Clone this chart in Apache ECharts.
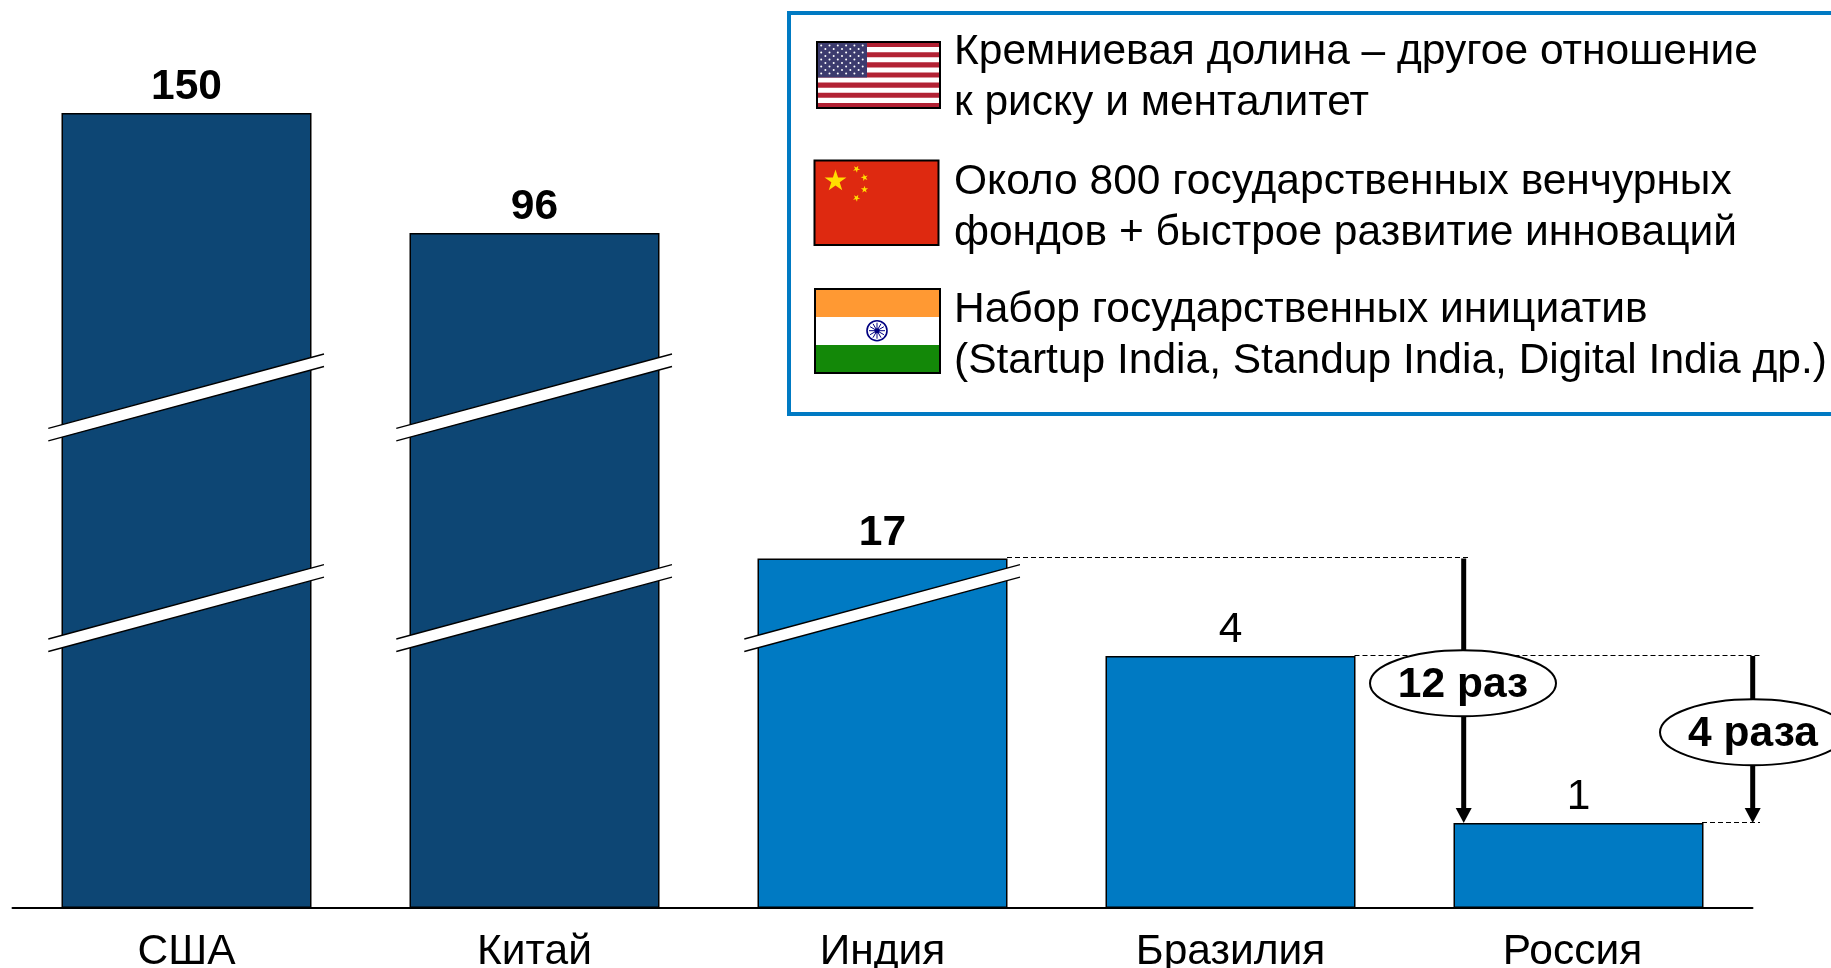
<!DOCTYPE html>
<html><head><meta charset="utf-8">
<style>html,body{margin:0;padding:0;background:#fff;overflow:hidden}#c{width:1831px;height:968px}</style>
<script src="https://cdn.jsdelivr.net/npm/echarts@6/dist/echarts.min.js"></script>
</head><body><div id="c"></div>
<script>
const categories = ['США','Китай','Индия','Бразилия','Россия'];
const values = [150,96,17,4,1];
const boldLabel = [true,true,true,false,false];
const noteLines = [
  'Кремниевая долина – другое отношение','к риску и менталитет',
  'Около 800 государственных венчурных','фондов + быстрое развитие инноваций',
  'Набор государственных инициатив','(Startup India, Standup India, Digital India др.)'
];
const ratioLabels = ['12 раз','4 раза'];

const DARK='#0D4674', BLUE='#007AC3', FONT='"Liberation Sans", Arial, sans-serif', FS=42.5;
const barColors=[DARK,DARK,BLUE,BLUE,BLUE];
const chart=echarts.init(document.getElementById('c'),null,{renderer:'canvas'});
chart.setOption({
  animation:false,
  grid:{left:12.5,top:113,width:1740,height:795,containLabel:false,outerBoundsMode:'none'},
  xAxis:{type:'category',
    data:categories.map((c,i)=>i===4?{value:c,textStyle:{padding:[0,12,0,0]}}:c),
    axisLine:{lineStyle:{color:'#000',width:2}},axisTick:{show:false},
    axisLabel:{color:'#000',fontFamily:FONT,fontSize:FS,margin:23,interval:0,hideOverlap:false}},
  yAxis:{type:'value',min:0,max:150,show:false,splitLine:{show:false},
    breaks:[
      {start:1.5,end:3.5,gap:0.965},
      {start:4.2,end:16.8,gap:0.747},
      {start:17.2,end:95.8,gap:3.429},
      {start:96.2,end:149.8,gap:1.012}
    ],
    breakArea:{show:false}},
  series:[{type:'bar',barWidth:250,
    data:values.map((v,i)=>({value:v,itemStyle:{color:barColors[i],borderColor:'#000',borderWidth:1.5},
      label:{fontWeight:boldLabel[i]?'bold':'normal'}})),
    label:{show:true,position:'top',distance:4,color:'#000',fontFamily:FONT,fontSize:FS},
    silent:true}]
});

const px=(c,v)=>chart.convertToPixel({seriesIndex:0},[c,v]);
const g=[];
const line=(x1,y1,x2,y2,w,dash,z)=>g.push({type:'line',z:z||10,shape:{x1,y1,x2,y2},style:{stroke:'#000',lineWidth:w,lineDash:dash||null}});
const rect=(x,y,w,h,fill,stroke,lw,z)=>g.push({type:'rect',z:z||10,shape:{x,y,width:w,height:h},style:{fill:fill||'transparent',stroke:stroke||null,lineWidth:lw||0}});
const text=(t,x,y,opt)=>g.push(Object.assign({type:'text',z:30,style:Object.assign({text:t,x,y,fill:'#000',font:FS+'px '+FONT,verticalAlign:'middle',align:'left'},opt||{})}));

// axis-break slashes
const slash=(cx,yTopLeft)=>{
  const x1=cx-138.2,x2=cx+137.5,y1=yTopLeft,y2=yTopLeft-74.3,h=12.5;
  g.push({type:'polygon',z:10,shape:{points:[[x1,y1],[x2,y2],[x2,y2+h],[x1,y1+h]]},style:{fill:'#fff'}});
  line(x1,y1,x2,y2,1.3);line(x1,y1+h,x2,y2+h,1.3);
};
[[0,428.3],[0,639],[1,428.3],[1,639],[2,639]].forEach(([c,y])=>slash(px(c,0)[0],y));

// dashed guides and arrows
const y17=px(0,17)[1],y4=px(0,4)[1],y1=px(0,1)[1];
const dash=[5,3];
const snap=y=>Math.round(y)-0.5;
line(1007,snap(y17),1469,snap(y17),1,dash);
line(1354.5,snap(y4),1760,snap(y4),1,dash);
line(1702,snap(y1),1760,snap(y1),1,dash);
const arrow=(x,yA,yB)=>{
  line(x,yA,x,yB-14,5);
  g.push({type:'polygon',z:10,shape:{points:[[x-8,yB-15],[x+8,yB-15],[x,yB]]},style:{fill:'#000'}});
};
arrow(1463.7,y17,y1);arrow(1752.7,y4,y1);
const oval=(cx,cy,t)=>{
  g.push({type:'ellipse',z:20,shape:{cx,cy,rx:93,ry:33},style:{fill:'#fff',stroke:'#000',lineWidth:2}});
  text(t,cx,cy+2,{align:'center',font:'bold '+FS+'px '+FONT});
};
oval(1463,683.3,ratioLabels[0]);oval(1753,732.3,ratioLabels[1]);

// note box
rect(789,13,1060,401,'#fff',BLUE,4,5);
[52.5,103,182.5,233.5,310.5,361].forEach((y,i)=>text(noteLines[i],954,y));

// flags
const star=(cx,cy,r,rot)=>g.push({type:'polygon',z:12,shape:{points:Array.from({length:10},(_,k)=>{
  const a=rot+k*Math.PI/5,q=k%2?r*0.382:r;return [cx+q*Math.sin(a),cy-q*Math.cos(a)];})},style:{fill:'#FFDE00'}});
// USA
(()=>{const x=817,y=42,w=123,h=66,sh=h/13;
  rect(x,y,w,h,'#fff');
  for(let i=0;i<13;i+=2)rect(x,y+i*sh,w,sh,'#B22234');
  rect(x,y,50,sh*7,'#3C3B6E');
  for(let r=0;r<9;r++){const n=r%2?5:6;for(let k=0;k<n;k++){
    g.push({type:'circle',z:12,shape:{cx:x+4.2+(r%2?4.2:0)+k*8.3,cy:y+3.4+r*3.5,r:1},style:{fill:'#fff'}});}}
  rect(x,y,w,h,null,'#000',2,13);
})();
// China
(()=>{const x=814.5,y=160.5,w=124,h=84.5;
  rect(x,y,w,h,'#DE2910');
  star(835.5,181,11.5,0);
  star(856.5,169,3.8,0.5);star(864.5,177.5,3.8,1);star(864.5,189.5,3.8,0);star(856.5,198,3.8,0.5);
  rect(x,y,w,h,null,'#000',2,13);
})();
// India
(()=>{const x=815,y=289,w=125,h=84;
  rect(x,y,w,h/3,'#FF9933');rect(x,y+h/3,w,h/3,'#fff');rect(x,y+2*h/3,w,h/3,'#138808');
  g.push({type:'circle',z:12,shape:{cx:877,cy:330.7,r:10},style:{fill:'#fff',stroke:'#000080',lineWidth:1.6}});
  for(let a=0;a<12;a++){const t=a*Math.PI/6;g.push({type:'line',z:12,shape:{x1:877,y1:330.7,x2:877+8*Math.cos(t),y2:330.7+8*Math.sin(t)},style:{stroke:'#000080',lineWidth:1}});}
  g.push({type:'circle',z:12,shape:{cx:877,cy:330.7,r:2.5},style:{fill:'#000080'}});
  rect(x,y,w,h,null,'#000',2,13);
})();
chart.setOption({graphic:{elements:g}});
</script></body></html>
